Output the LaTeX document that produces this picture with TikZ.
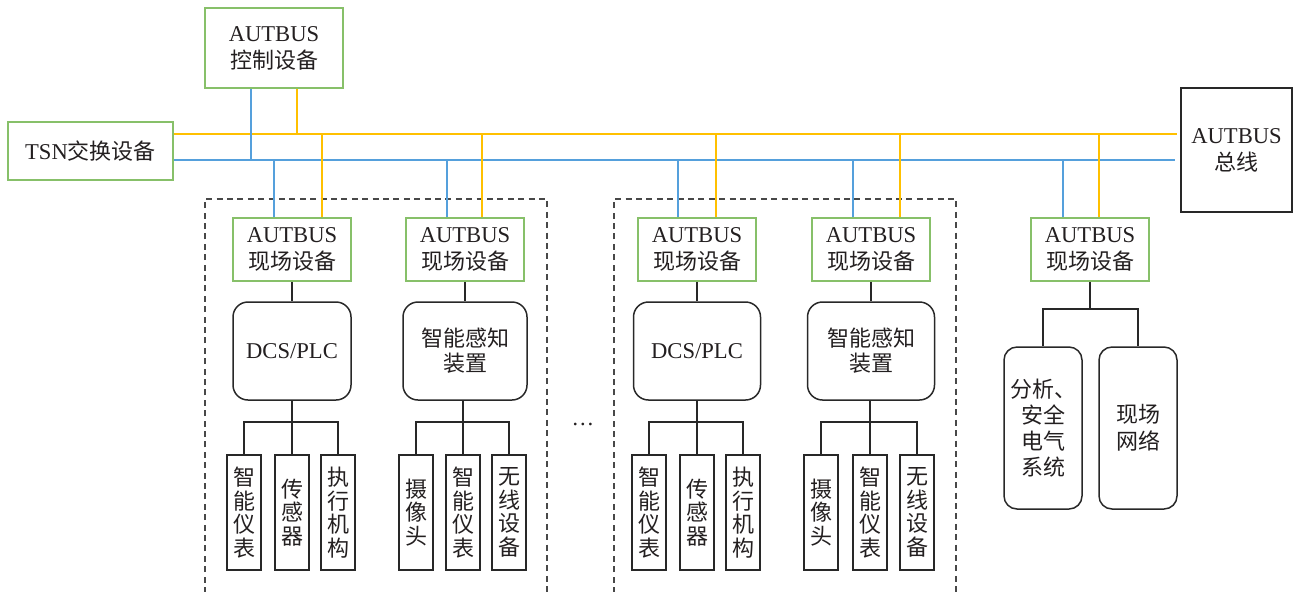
\documentclass[tikz,border=0pt]{standalone}
\usepackage{fontspec}
\setmainfont{Liberation Serif}
\newfontfamily\cjk{Noto Sans CJK SC}
\definecolor{grn}{RGB}{135,192,105}
\definecolor{ylw}{RGB}{255,192,0}
\definecolor{blu}{RGB}{85,160,220}
\definecolor{dk}{RGB}{40,40,40}
\definecolor{txt}{RGB}{35,31,32}
\begin{document}
\begin{tikzpicture}[x=0.5pt,y=-0.5pt, font=\fontsize{11.3}{13.5}\selectfont, text=txt,
 gbox/.style={draw=grn, line width=0.8pt, inner sep=0pt, align=center},
 kbox/.style={draw=dk, line width=0.75pt, inner sep=0pt, align=center},
 rbox/.style={kbox, rounded corners=7.5pt},
 leaf/.style={kbox, minimum width=17pt, minimum height=57.5pt, font=\fontsize{11}{11.75}\selectfont\cjk},
 yw/.style={draw=ylw, line width=0.9pt},
 bw/.style={draw=blu, line width=0.9pt},
 kw/.style={draw=dk, line width=0.8pt},
 dsh/.style={draw=dk!85, line width=0.75pt, dash pattern=on 3pt off 2.2pt}]
\useasboundingbox (0,0) rectangle (1294,591);

% top level nodes
\node[gbox, minimum width=69pt, minimum height=40pt] (ctrl) at (274,48) {AUTBUS\\{\cjk\fontsize{11}{13.5}\selectfont 控制设备}};
\node[gbox, minimum width=82.5pt, minimum height=29pt] (tsn) at (90.5,151) {TSN{\cjk\fontsize{11}{13.5}\selectfont 交换设备}};
\node[kbox, minimum width=55.5pt, minimum height=62pt] (bus) at (1236.5,150) {AUTBUS\\{\cjk\fontsize{11}{13.5}\selectfont 总线}};

% field devices
\foreach \n/\x in {f1/292,f2/465,f3/697,f4/871,f5/1090}
  \node[gbox, minimum width=59pt, minimum height=31.5pt] (\n) at (\x,249.5) {AUTBUS\\{\cjk\fontsize{11}{13.5}\selectfont 现场设备}};

% rounded boxes
\node[rbox, minimum width=59pt, minimum height=49pt] (r1) at (292,351) {DCS/PLC};
\node[rbox, minimum width=62pt, minimum height=49pt, font=\fontsize{11}{12.5}\selectfont] (r2) at (465,351) {{\cjk 智能感知}\\{\cjk 装置}};
\node[rbox, minimum width=63.5pt, minimum height=49pt] (r3) at (697,351) {DCS/PLC};
\node[rbox, minimum width=63.5pt, minimum height=49pt, font=\fontsize{11}{12.5}\selectfont] (r4) at (871,351) {{\cjk 智能感知}\\{\cjk 装置}};
\node[rbox, rounded corners=6.5pt, minimum width=39pt, minimum height=81pt, font=\fontsize{11}{13}\selectfont\cjk] (r5) at (1043,428) {分析、\\安全\\电气\\系统};
\node[rbox, rounded corners=6.5pt, minimum width=39pt, minimum height=81pt, font=\fontsize{11}{13.5}\selectfont\cjk] (r6) at (1138,428) {现场\\网络};

% leaves
\node[leaf] (l11) at (244,512.5) {智\\能\\仪\\表};
\node[leaf] (l12) at (292,512.5) {传\\感\\器};
\node[leaf] (l13) at (338,512.5) {执\\行\\机\\构};
\node[leaf] (l21) at (416,512.5) {摄\\像\\头};
\node[leaf] (l22) at (463,512.5) {智\\能\\仪\\表};
\node[leaf] (l23) at (509,512.5) {无\\线\\设\\备};
\node[leaf] (l31) at (649,512.5) {智\\能\\仪\\表};
\node[leaf] (l32) at (697,512.5) {传\\感\\器};
\node[leaf] (l33) at (743,512.5) {执\\行\\机\\构};
\node[leaf] (l41) at (821,512.5) {摄\\像\\头};
\node[leaf] (l42) at (870,512.5) {智\\能\\仪\\表};
\node[leaf] (l43) at (917,512.5) {无\\线\\设\\备};

\node (dots) at (583,424) {…};

% dashed groups
\draw[dsh] (205,593) -- (205,199) -- (547,199) -- (547,593);
\draw[dsh] (614,593) -- (614,199) -- (956,199) -- (956,593);

% bus lines
\coordinate (ybus) at (0,134);
\coordinate (bbus) at (0,160);
\draw[yw, shorten >=1.5pt] (tsn.east |- ybus) -- (bus.west |- ybus);
\draw[bw, shorten >=2.5pt] (tsn.east |- bbus) -- (bus.west |- bbus);

% drops
\draw[bw] (251,0 |- ctrl.south) -- (251,0 |- bbus);
\draw[yw] (297,0 |- ctrl.south) -- (297,0 |- ybus);
\foreach \n/\xb/\xy in {f1/274/322,f2/447/482,f3/678/716,f4/853/900,f5/1063/1099}{
  \draw[bw] (\xb,0 |- \n.north) -- (\xb,0 |- bbus);
  \draw[yw] (\xy,0 |- \n.north) -- (\xy,0 |- ybus);
}

% field to rounded
\draw[kw] (f1.south) -- (f1.south |- r1.north);
\draw[kw] (f2.south) -- (f2.south |- r2.north);
\draw[kw] (f3.south) -- (f3.south |- r3.north);
\draw[kw] (f4.south) -- (f4.south |- r4.north);

% rounded to leaves
\coordinate (bar) at (0,422);
\foreach \r/\a/\b/\c in {r1/l11/l12/l13,r2/l21/l22/l23,r3/l31/l32/l33,r4/l41/l42/l43}{
  \draw[kw] (\a.north) -- (\a.north |- bar) -- (\c.north |- bar) -- (\c.north);
  \draw[kw] (\b.north |- \r.south) -- (\b.north);
}

% right group
\coordinate (bar5) at (0,309);
\draw[kw] (f5.south) -- (f5.south |- bar5);
\draw[kw] (r5.north) -- (r5.north |- bar5) -- (r6.north |- bar5) -- (r6.north);
\end{tikzpicture}
\end{document}
